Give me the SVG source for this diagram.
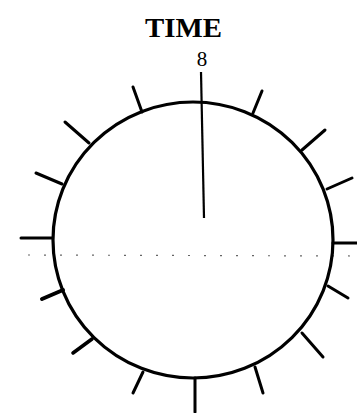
<svg xmlns="http://www.w3.org/2000/svg" width="357" height="413" viewBox="0 0 357 413">
<style>
.t{stroke:#000;stroke-width:3;stroke-linecap:round;fill:none}
.lbl{font-family:"Liberation Serif",serif;font-weight:bold;fill:#000}
</style>
<rect width="357" height="413" fill="#fff"/>
<g id="title"><text class="lbl" x="183.5" y="37" font-size="27" text-anchor="middle" textLength="77" lengthAdjust="spacingAndGlyphs">TIME</text></g>
<g id="mark"><text x="202" y="66" font-family="Liberation Serif,serif" font-size="21" text-anchor="middle" fill="#000">8</text></g>
<g id="dial">
<ellipse cx="193" cy="240" rx="140" ry="138" fill="none" stroke="#000" stroke-width="3.2"/>
<line x1="201" y1="72" x2="204" y2="218" stroke="#000" stroke-width="2.2"/>
</g>
<g id="ticks" class="t">
<line x1="133" y1="87" x2="142" y2="112"/>
<line x1="65" y1="122" x2="89" y2="143"/>
<line x1="36" y1="173" x2="62" y2="184"/>
<line x1="21" y1="238" x2="52" y2="238"/>
<line x1="42" y1="299" x2="63" y2="290" stroke-width="4"/>
<line x1="73" y1="353" x2="92" y2="339" stroke-width="3.6"/>
<line x1="133" y1="393" x2="143" y2="372"/>
<line x1="195" y1="412" x2="195" y2="378"/>
<line x1="263" y1="393" x2="255" y2="367"/>
<line x1="323" y1="357" x2="302" y2="333"/>
<line x1="348" y1="298" x2="328" y2="286"/>
<line x1="333" y1="243" x2="357" y2="243"/>
<line x1="352" y1="178" x2="327" y2="189"/>
<line x1="325" y1="130" x2="302" y2="150"/>
<line x1="262" y1="91" x2="253" y2="113"/>
</g>
<line x1="28" y1="255" x2="357" y2="256" stroke="#000" stroke-width="1.2" stroke-dasharray="2 14" opacity="0.6"/>
</svg>
